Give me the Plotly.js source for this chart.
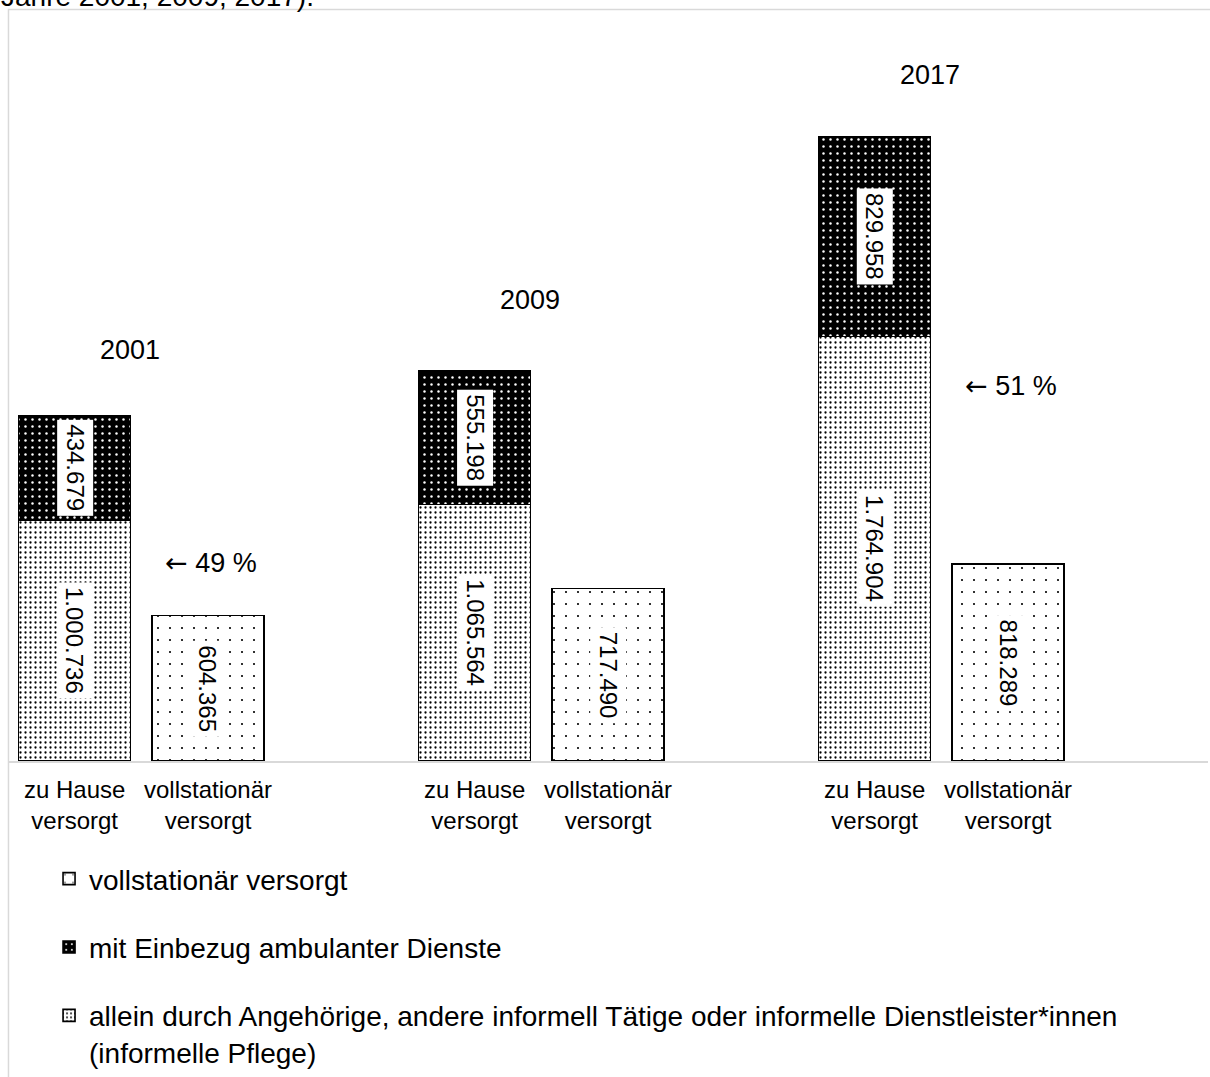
<!DOCTYPE html>
<html>
<head>
<meta charset="utf-8">
<script src="https://cdn.plot.ly/plotly-3.0.1.min.js"></script>
<style>
  html, body { margin: 0; padding: 0; background: #ffffff; }
  #chart { width: 1210px; height: 1077px; }
</style>
</head>
<body>
<div id="chart"></div>
<script>
// ---- data ----
const years = ['2001', '2009', '2017'];
const homeInformal = [1000736, 1065564, 1764904];   // allein durch Angehörige ... (informelle Pflege)
const homeAmbulant = [434679, 555198, 829958];      // mit Einbezug ambulanter Dienste
const inpatient = [604365, 717490, 818289];         // vollstationär versorgt
const shareInformal = [49, null, 51];               // % informelle Pflege
const categoryLabels = ['zu Hause<br>versorgt', 'vollstationär<br>versorgt'];
const seriesNames = [
  'allein durch Angehörige, andere informell Tätige oder informelle Dienstleister*innen<br>(informelle Pflege)',
  'mit Einbezug ambulanter Dienste',
  'vollstationär versorgt'
];
const headerText = 'Jahre 2001, 2009, 2017).';

// ---- layout helpers (positions / styles) ----
const FONT = 'Arial, "Liberation Sans", Helvetica, sans-serif';
const slotsPerGroup = 3;
const homeX = years.map((_, i) => i * slotsPerGroup);
const instX = years.map((_, i) => i * slotsPerGroup + 1);
const yearLift = [66, 71, 62];
const shareDrop = [-42, null, -49];

function fmt(n) {
  return String(n).replace(/\B(?=(\d{3})+(?!\d))/g, '.');
}

const outline = { color: '#000000', width: 1.6 };

const traces = [
  {
    type: 'bar', name: seriesNames[0], legendgroup: 'a', legendrank: 3,
    x: homeX, y: homeInformal, width: 0.84,
    marker: { color: '#ffffff', line: outline,
      pattern: { shape: '.', fgcolor: '#000000', bgcolor: '#ffffff', size: 5, solidity: 0.16, fillmode: 'replace' } },
    hoverinfo: 'skip'
  },
  {
    type: 'bar', name: seriesNames[1], legendgroup: 'b', legendrank: 2,
    x: homeX, y: homeAmbulant, width: 0.84,
    marker: { color: '#000000', line: outline,
      pattern: { shape: '.', fgcolor: '#ffffff', bgcolor: '#000000', size: 7, solidity: 0.1, fillmode: 'replace' } },
    hoverinfo: 'skip'
  },
  {
    type: 'bar', name: seriesNames[2], legendgroup: 'c', legendrank: 1,
    x: instX, y: inpatient, width: 0.84,
    marker: { color: '#ffffff', line: outline,
      pattern: { shape: '.', fgcolor: '#000000', bgcolor: '#ffffff', size: 12, solidity: 0.025, fillmode: 'replace' } },
    hoverinfo: 'skip'
  }
];

const annotations = [];
const labelStyle = { font: { family: FONT, size: 24, color: '#000000' }, bgcolor: '#ffffff',
  borderpad: 4, textangle: 90, showarrow: false, xanchor: 'center', yanchor: 'middle' };

years.forEach((yr, i) => {
  annotations.push(Object.assign({ x: homeX[i], y: homeInformal[i] / 2, text: fmt(homeInformal[i]) }, labelStyle));
  annotations.push(Object.assign({ x: homeX[i], y: homeInformal[i] + homeAmbulant[i] / 2, text: fmt(homeAmbulant[i]) }, labelStyle));
  annotations.push(Object.assign({ x: instX[i], y: inpatient[i] / 2, text: fmt(inpatient[i]) }, labelStyle));
  // year label above the stacked bar
  annotations.push({
    x: homeX[i] + 0.5, y: homeInformal[i] + homeAmbulant[i], yshift: yearLift[i], xshift: -11,
    text: yr, showarrow: false, xanchor: 'center', yanchor: 'middle',
    font: { family: FONT, size: 27, color: '#000000' }
  });
  if (shareInformal[i] !== null) {
    annotations.push({
      x: instX[i], y: homeInformal[i], yshift: shareDrop[i], xshift: 3,
      text: '<span style="font-family:\'DejaVu Sans\'">\u2190</span> ' + shareInformal[i] + ' %',
      showarrow: false, xanchor: 'center', yanchor: 'middle',
      font: { family: FONT, size: 27, color: '#000000' }
    });
  }
});

// cut-off header text at top of the image
annotations.push({
  xref: 'paper', yref: 'paper', x: -0.0067, y: 0.9960, xanchor: 'left', yanchor: 'bottom',
  text: headerText, showarrow: false, borderpad: 0,
  font: { family: FONT, size: 28, color: '#000000' }
});

const tickvals = [];
const ticktext = [];
years.forEach((_, i) => {
  tickvals.push(homeX[i], instX[i]);
  ticktext.push(categoryLabels[0], categoryLabels[1]);
});

const layout = {
  width: 1210, height: 1077,
  margin: { l: 8, r: 2, t: 10, b: 316, pad: 0, autoexpand: false },
  paper_bgcolor: '#ffffff', plot_bgcolor: '#ffffff',
  barmode: 'stack',
  font: { family: FONT, color: '#000000' },
  xaxis: {
    range: [-0.5, 8.5], tickmode: 'array', tickvals: tickvals, ticktext: ticktext,
    showgrid: false, zeroline: false, showline: true, linecolor: '#d9d9d9', linewidth: 2,
    ticks: '', ticklabelstandoff: 6, automargin: false,
    tickfont: { family: FONT, size: 24, color: '#000000' }, fixedrange: true
  },
  yaxis: {
    range: [0, 3122000], visible: false, showgrid: false, zeroline: false, fixedrange: true
  },
  showlegend: true,
  legend: {
    x: 0.0342, xanchor: 'left', y: -0.1237, yanchor: 'top',
    traceorder: 'grouped', tracegroupgap: 29, valign: 'top',
    font: { family: FONT, size: 28, color: '#000000' },
    bgcolor: 'rgba(0,0,0,0)', borderwidth: 0
  },
  shapes: [{
    type: 'rect', xref: 'paper', yref: 'paper', x0: 0.0004, x1: 1.05, y0: -0.6, y1: 1.0007,
    line: { color: '#d9d9d9', width: 1.5 }, fillcolor: 'rgba(0,0,0,0)', layer: 'below'
  }],
  annotations: annotations
};

Plotly.newPlot('chart', traces, layout, { displayModeBar: false, staticPlot: true });
</script>
</body>
</html>
